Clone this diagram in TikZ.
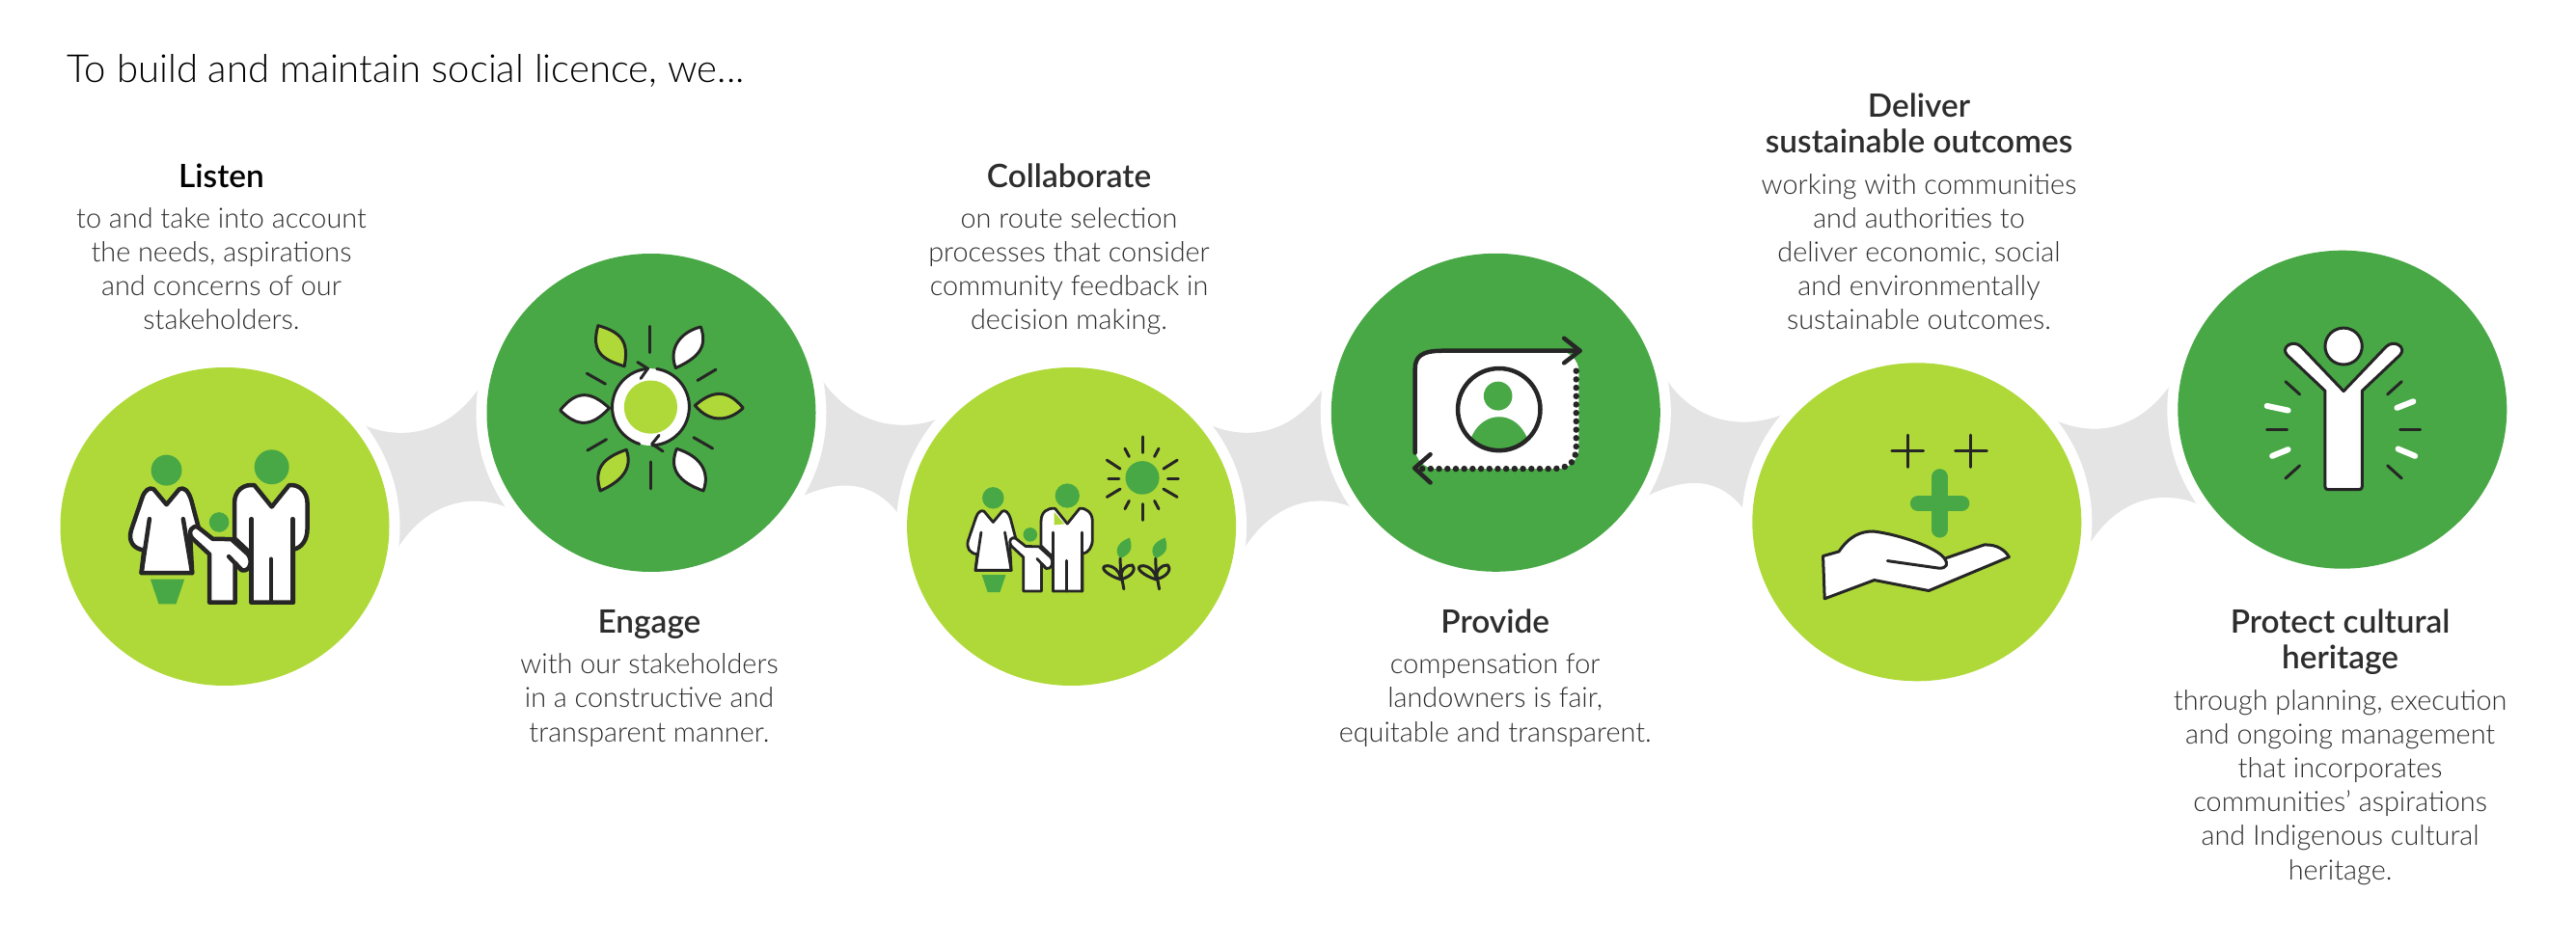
\documentclass[tikz,border=0pt]{standalone}
\usepackage{fontspec}
\setmainfont{Lato Light}
\newfontfamily\headfont{Lato Semibold}
\usetikzlibrary{shapes.geometric, calc, backgrounds}

\definecolor{limefill}{RGB}{175,217,56}
\definecolor{leaffill}{RGB}{72,168,69}
\definecolor{webgrey}{RGB}{228,228,228}
\definecolor{inkline}{RGB}{38,38,38}
\definecolor{textgrey}{RGB}{45,45,45}

\tikzset{
    disc/.style={ellipse, minimum width=3.41cm, minimum height=3.3cm, inner sep=0pt, fill=#1,
        preaction={draw=white, line width=0.22cm}},
    headline/.style={anchor=base, align=center, text=textgrey, font=\headfont\fontsize{9.5}{10.7}\selectfont},
    blurb/.style={anchor=base, align=center, text=textgrey, font=\fontsize{8.2}{9.96}\selectfont},
    figline/.style={draw=inkline, line width=0.045cm, line join=round, line cap=round},
    thinline/.style={draw=inkline, line width=0.03cm, line join=round, line cap=round},
    family/.pic={
        \begin{scope}[x=0.00333cm, y=-0.00333cm]
            \fill[leaffill] (158,83) circle (48);
            \fill[leaffill] (486,73) circle (54);
            \fill[leaffill] (322,245) circle (31);
            \fill[leaffill] (108,423) -- (214,423) -- (188,500) -- (134,500) -- cycle;
            % woman
            \draw[figline, fill=white] (158,190) -- (118,142) .. controls (105,135) and (90,145) .. (82,170) -- (48,270) .. controls (38,305) and (55,328) .. (88,332) -- (80,403) -- (238,403) -- (232,290) -- (258,262) -- (235,175) .. controls (225,145) and (212,135) .. (198,142) -- cycle;
            \draw[figline] (105,235) -- (80,403);
            \draw[figline] (210,235) -- (238,403);
            % man
            \draw[figline, fill=white] (486,197) -- (432,130) .. controls (400,125) and (370,145) .. (370,185) -- (370,295) -- (423,345) -- (423,495) -- (553,495) -- (553,330) .. controls (580,325) and (597,300) .. (597,265) -- (597,185) .. controls (597,150) and (570,125) .. (540,130) -- cycle;
            \draw[figline] (551,235) -- (551,495);
            \draw[figline] (484,360) -- (484,495);
            % child
            \draw[figline, fill=white] (258,262) -- (302,297) -- (360,298) -- (412,345) .. controls (430,370) and (415,400) .. (393,395) -- (372,373) -- (372,495) -- (292,495) -- (292,345) -- (238,295) .. controls (222,275) and (240,250) .. (258,262) -- cycle;
            \draw[figline] (352,352) -- (390,392);
            \draw[figline] (423,235) -- (423,495);
        \end{scope}
    }
}

% grey webs between two discs, left one low or left one high
\newcommand{\webrise}[2]{
    \fill[webgrey] ($(#1)+(1.4,1.07)$) .. controls ($(#1)+(1.67,0.94)$) and ($(#2)+(-2.2,-0.34)$) .. ($(#2)+(-1.78,0.26)$)
        -- ($(#2)+(-1.5,-0.98)$) .. controls ($(#2)+(-1.7,-0.89)$) and ($(#1)+(2.17,0.38)$) .. ($(#1)+(1.78,-0.24)$) -- cycle;
}
\newcommand{\webfall}[2]{
    \fill[webgrey] ($(#1)+(1.77,0.34)$) .. controls ($(#1)+(2.17,-0.24)$) and ($(#2)+(-1.59,1.02)$) .. ($(#2)+(-1.36,1.13)$)
        -- ($(#2)+(-1.77,0.1)$) .. controls ($(#2)+(-2.13,0.61)$) and ($(#1)+(1.74,-0.79)$) .. ($(#1)+(1.53,-0.88)$) -- cycle;
}

\begin{document}
\begin{tikzpicture}
    \useasboundingbox (0,0) rectangle (26.7,-9.82);

    \node[anchor=base west, inner sep=0pt, text=black, font=\fontsize{11.4}{13}\selectfont] (intro) at (0.69,-0.86) {To build and maintain social licence, we...};

    % discs
    \node[disc=limefill] (listen) at (2.33,-5.46) {};
    \node[disc=leaffill] (engage) at (6.75,-4.28) {};
    \node[disc=limefill] (collab) at (11.106,-5.46) {};
    \node[disc=leaffill] (provide) at (15.503,-4.278) {};
    \node[disc=limefill] (deliver) at (19.868,-5.413) {};
    \node[disc=leaffill] (protect) at (24.278,-4.247) {};

    \begin{scope}[on background layer]
        \webrise{listen}{engage}
        \webfall{engage}{collab}
        \webrise{collab}{provide}
        \webfall{provide}{deliver}
        \webrise{deliver}{protect}
    \end{scope}

    % Listen
    \node[headline, text=black] (listenhead) at (2.295,-1.945) {Listen};
    \node[blurb] (listentext) at (2.295,-3.42) {to and take into account\\the needs, aspirations\\and concerns of our\\stakeholders.};
    \pic at (1.2,-4.6) {family};

    % Engage
    \node[headline] (engagehead) at (6.73,-6.56) {Engage};
    \node[blurb] (engagetext) at (6.73,-7.69) {with our stakeholders\\in a constructive and\\transparent manner.};
    \begin{scope}[shift={(5.7,-3.2)}, x=0.00333cm, y=-0.00333cm]
        \draw[thinline, fill=limefill] (150,53) .. controls (230,75) and (245,110) .. (232,180) .. controls (170,160) and (125,140) .. cycle;
        \draw[thinline, fill=white] (470,57) .. controls (490,115) and (470,150) .. (392,185) .. controls (370,130) and (400,75) .. cycle;
        \draw[thinline, fill=white] (32,317) .. controls (85,250) and (130,260) .. (185,310) .. controls (130,370) and (85,370) .. cycle;
        \draw[thinline, fill=limefill] (602,310) .. controls (550,245) and (500,260) .. (452,302) .. controls (500,360) and (560,350) .. cycle;
        \draw[thinline, fill=limefill] (238,440) .. controls (260,500) and (220,540) .. (157,568) .. controls (135,500) and (165,465) .. cycle;
        \draw[thinline, fill=white] (395,437) .. controls (470,460) and (500,510) .. (478,568) .. controls (400,540) and (370,500) .. cycle;
        \draw[thinline] (312,55) -- (312,137);
        \draw[thinline] (313,478) -- (313,562);
        \draw[thinline] (115,202) -- (173,235);
        \draw[thinline] (517,190) -- (460,224);
        \draw[thinline] (117,442) -- (176,408);
        \draw[thinline] (507,436) -- (448,402);
        \fill[white] (314,307) circle (120);
        \fill[limefill] (314,307) circle (83);
        \draw[thinline] (279,422) arc [start angle=107, end angle=266, radius=120];
        \draw[thinline] (333,188) arc [start angle=-81, end angle=88, radius=120];
        \draw[thinline] (273,167) -- (305,187) -- (283,218);
        \draw[thinline] (340,395) -- (318,422) -- (352,445);
    \end{scope}

    % Collaborate
    \node[headline] (collabhead) at (11.08,-1.945) {Collaborate};
    \node[blurb] (collabtext) at (11.08,-3.42) {on route selection\\processes that consider\\community feedback in\\decision making.};
    \pic[scale=0.705, figline/.style={draw=inkline, line width=0.028cm, line join=round, line cap=round}] at (9.923,-4.969) {family};
    \begin{scope}[shift={(9.2,-2.4)}, x=0.005485cm, y=-0.00333cm]
        % sun
        \fill[leaffill] (482,768) ellipse [x radius=32, y radius=52];
        \draw[thinline] (482,640) -- (482,690);
        \draw[thinline] (482,850) -- (482,900);
        \draw[thinline] (418,770) -- (438,770);
        \draw[thinline] (530,770) -- (550,770);
        \draw[thinline] (415,713) -- (440,740);
        \draw[thinline] (548,713) -- (522,740);
        \draw[thinline] (415,828) -- (440,803);
        \draw[thinline] (548,828) -- (522,803);
        \draw[thinline] (449,677) -- (457,702);
        \draw[thinline] (513,677) -- (505,702);
        \draw[thinline] (449,865) -- (457,840);
        \draw[thinline] (513,865) -- (505,840);
        % sprouts
        \foreach \dx in {0,67} {
            \fill[leaffill] (440+\dx,1020) .. controls (425+\dx,990) and (440+\dx,965) .. (458+\dx,955) .. controls (465+\dx,990) and (460+\dx,1005) .. cycle;
            \draw[thinline] (440+\dx,1020) -- (441+\dx,1060) -- (447+\dx,1115);
            \draw[thinline] (441+\dx,1085) .. controls (420+\dx,1075) and (400+\dx,1050) .. (412+\dx,1043) .. controls (425+\dx,1038) and (441+\dx,1060) .. (441+\dx,1085);
            \draw[thinline] (441+\dx,1085) .. controls (465+\dx,1075) and (470+\dx,1050) .. (463+\dx,1040) .. controls (450+\dx,1040) and (441+\dx,1055) .. (441+\dx,1085);
        }
        % wedge in the shirt
        \fill[limefill] (315,875) -- (335,912) -- (315,915) -- cycle;

        % Provide icon
        \fill[white, rounded corners=0.22cm] (998,372) rectangle (1308,740);
        \fill[white] (1157,555) ellipse [x radius=78, y radius=128];
        \fill[leaffill] (1155,513) ellipse [x radius=27, y radius=45];
        \begin{scope}
            \clip (1157,555) ellipse [x radius=78, y radius=128];
            \fill[leaffill] (1157,690) ellipse [x radius=58, y radius=112];
        \end{scope}
        \draw[figline] (1157,555) ellipse [x radius=78, y radius=128];
        \draw[figline] (998,690) -- (998,430) .. controls (998,390) and (1010,372) .. (1050,372) -- (1310,372);
        \draw[figline] (1280,333) -- (1310,372) -- (1280,410);
        \draw[draw=inkline, line width=0.065cm, line cap=round, dash pattern=on 0pt off 0.087cm] (1303,435) -- (1303,670) .. controls (1303,720) and (1290,740) .. (1255,740) -- (1010,740);
        \draw[figline] (1027,695) -- (997,738) -- (1027,783);
    \end{scope}

    % Provide
    \node[headline] (providehead) at (15.497,-6.56) {Provide};
    \node[blurb] (providetext) at (15.497,-7.69) {compensation for\\landowners is fair,\\equitable and transparent.};

    % Deliver
    \node[headline] (deliverhead) at (19.89,-1.59) {Deliver\\sustainable outcomes};
    \node[blurb] (delivertext) at (19.89,-3.42) {working with communities\\and authorities to\\deliver economic, social\\and environmentally\\sustainable outcomes.};
    \begin{scope}[shift={(17.8,-2.4)}, x=0.005485cm, y=-0.00333cm]
        \draw[thinline] (360,635) -- (360,735);
        \draw[thinline] (330,685) -- (390,685);
        \draw[thinline] (480,635) -- (480,735);
        \draw[thinline] (450,685) -- (510,685);
        \draw[leaffill, line width=0.165cm, line cap=round] (421,765) -- (421,930);
        \draw[leaffill, line width=0.165cm, line cap=round] (380,848) -- (462,848);
        \draw[thinline, fill=white] (200,1012) -- (230,998) .. controls (250,950) and (270,935) .. (295,935) .. controls (345,945) and (415,985) .. (430,1020) -- (505,977) .. controls (530,975) and (545,995) .. (552,1015) -- (400,1120) -- (297,1087) -- (203,1145) -- cycle;
        \draw[thinline] (322,1027) -- (420,1050) .. controls (435,1050) and (437,1035) .. (430,1020);

        % Protect icon
        \draw[thinline, fill=white] (1150,795) -- (1150,497) -- (1078,385) .. controls (1065,360) and (1090,335) .. (1105,360) -- (1185,498) -- (1265,360) .. controls (1280,335) and (1305,360) .. (1292,385) -- (1220,497) -- (1220,795) .. controls (1220,805) and (1215,805) .. (1210,805) -- (1160,805) .. controls (1155,805) and (1150,805) .. cycle;
        \draw[thinline, fill=white] (1185,358) ellipse [x radius=35, y radius=57];
        \draw[thinline] (1075,468) -- (1102,508);
        \draw[thinline] (1295,468) -- (1268,508);
        \draw[thinline] (1040,618) -- (1078,618);
        \draw[thinline] (1292,618) -- (1330,618);
        \draw[thinline] (1075,770) -- (1102,730);
        \draw[thinline] (1295,770) -- (1268,730);
        \draw[white, line width=0.06cm, line cap=round] (1040,544) -- (1080,558);
        \draw[white, line width=0.06cm, line cap=round] (1317,530) -- (1286,550);
        \draw[white, line width=0.06cm, line cap=round] (1050,700) -- (1080,680);
        \draw[white, line width=0.06cm, line cap=round] (1288,678) -- (1320,700);
    \end{scope}

    % Protect
    \node[headline] (protecthead) at (24.256,-6.937) {Protect cultural\\heritage};
    \node[blurb] (protecttext) at (24.256,-9.12) {through planning, execution\\and ongoing management\\that incorporates\\communities’ aspirations\\and Indigenous cultural\\heritage.};
\end{tikzpicture}
\end{document}
